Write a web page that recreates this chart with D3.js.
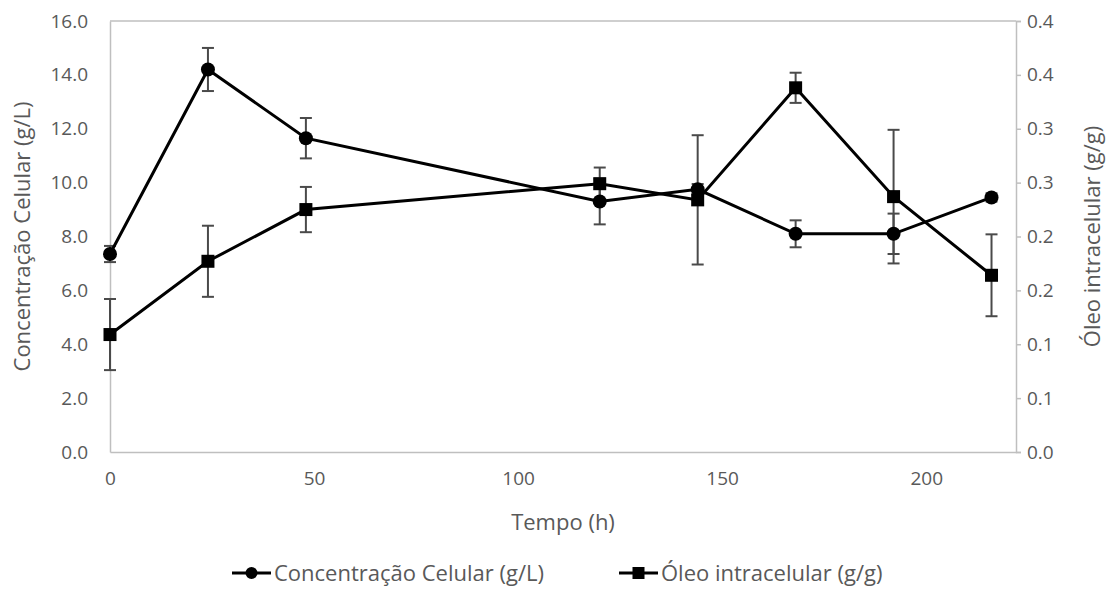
<!DOCTYPE html>
<html>
<head>
<meta charset="utf-8">
<script src="https://cdn.jsdelivr.net/npm/d3@7"></script>
<style>
  body { margin: 0; background: #fff; }
  text { font-family: "Open Sans", "Noto Sans", sans-serif; }
</style>
</head>
<body>
<div id="chart"></div>
<script>
// time points (h)
var tempo = [0, 24, 48, 120, 144, 168, 192, 216];
// cell concentration (g/L) and its error
var celular = [7.35, 14.2, 11.65, 9.3, 9.75, 8.1, 8.1, 9.45];
var celularErr = [0.3, 0.8, 0.75, 0.85, 0.2, 0.5, 0.75, 0.15];
// intracellular oil (g/g) and its error
var oleo = [0.109, 0.177, 0.225, 0.249, 0.234, 0.338, 0.237, 0.164];
var oleoErr = [0.033, 0.033, 0.021, 0.015, 0.06, 0.014, 0.062, 0.038];

var xTicks = [0, 50, 100, 150, 200];
var yLeftTicks = [0, 2, 4, 6, 8, 10, 12, 14, 16];
var yRightTicks = [0, 0.05, 0.1, 0.15, 0.2, 0.25, 0.3, 0.35, 0.4];
var yRightLabels = ["0.0", "0.1", "0.1", "0.2", "0.2", "0.3", "0.3", "0.4", "0.4"];

var width = 1107, height = 605;
var margin = {top: 21, right: 91, bottom: 153, left: 110};
var axisColor = "#bfbfbf", textColor = "#595959", errColor = "#4a4a4a";

var svg = d3.select("#chart").append("svg")
    .attr("width", width)
    .attr("height", height);

var x = d3.scaleLinear()
    .domain([0, 222])
    .range([margin.left, width - margin.right]);

var yL = d3.scaleLinear()
    .domain([0, 16])
    .range([height - margin.bottom, margin.top]);

var yR = d3.scaleLinear()
    .domain([0, 0.4])
    .range([height - margin.bottom, margin.top]);

// plot frame (top border)
svg.append("line")
    .attr("x1", margin.left).attr("x2", width - margin.right)
    .attr("y1", margin.top).attr("y2", margin.top)
    .attr("stroke", axisColor).attr("stroke-width", 1.5);

// x axis
svg.append("g")
    .attr("transform", `translate(0,${height - margin.bottom})`)
    .call(d3.axisBottom(x).tickValues(xTicks).tickSize(0).tickPadding(20).tickFormat(d3.format("d")))
    .call(g => g.select(".domain").attr("stroke", axisColor).attr("stroke-width", 1.5))
    .call(g => g.selectAll("text").attr("fill", textColor).style("font-size", "19px"));

// left axis
svg.append("g")
    .attr("transform", `translate(${margin.left},0)`)
    .call(d3.axisLeft(yL).tickValues(yLeftTicks).tickSize(0).tickPadding(22).tickFormat(d3.format(".1f")))
    .call(g => g.select(".domain").attr("stroke", axisColor).attr("stroke-width", 1.5))
    .call(g => g.selectAll("text").attr("fill", textColor).style("font-size", "19px"));

// right axis
svg.append("g")
    .attr("transform", `translate(${width - margin.right},0)`)
    .call(d3.axisRight(yR).tickValues(yRightTicks).tickSize(5).tickPadding(6)
        .tickFormat((d, i) => yRightLabels[i]))
    .call(g => g.select(".domain").attr("stroke", axisColor).attr("stroke-width", 1.5))
    .call(g => g.selectAll("line").attr("stroke", axisColor).attr("stroke-width", 1.5))
    .call(g => g.selectAll("text").attr("fill", textColor).style("font-size", "19px"));

// axis titles
svg.append("text")
    .attr("transform", `translate(30,${(margin.top + height - margin.bottom) / 2}) rotate(-90)`)
    .attr("text-anchor", "middle")
    .attr("fill", textColor)
    .style("font-size", "22px")
    .text("Concentração Celular (g/L)");

svg.append("text")
    .attr("transform", `translate(1100,${(margin.top + height - margin.bottom) / 2}) rotate(-90)`)
    .attr("text-anchor", "middle")
    .attr("fill", textColor)
    .style("font-size", "22px")
    .text("Óleo intracelular  (g/g)");

svg.append("text")
    .attr("x", (margin.left + width - margin.right) / 2)
    .attr("y", 530)
    .attr("text-anchor", "middle")
    .attr("fill", textColor)
    .style("font-size", "22px")
    .text("Tempo (h)");

var pts1 = tempo.map((t, i) => ({t: t, v: celular[i], e: celularErr[i]}));
var pts2 = tempo.map((t, i) => ({t: t, v: oleo[i], e: oleoErr[i]}));

function errorBars(data, y) {
    var g = svg.append("g").attr("stroke", errColor).attr("stroke-width", 2);
    g.selectAll(".v").data(data).join("line")
        .attr("x1", d => x(d.t)).attr("x2", d => x(d.t))
        .attr("y1", d => y(d.v - d.e)).attr("y2", d => y(d.v + d.e));
    g.selectAll(".top").data(data).join("line")
        .attr("x1", d => x(d.t) - 6).attr("x2", d => x(d.t) + 6)
        .attr("y1", d => y(d.v + d.e)).attr("y2", d => y(d.v + d.e));
    g.selectAll(".bot").data(data).join("line")
        .attr("x1", d => x(d.t) - 6).attr("x2", d => x(d.t) + 6)
        .attr("y1", d => y(d.v - d.e)).attr("y2", d => y(d.v - d.e));
}

errorBars(pts1, yL);
errorBars(pts2, yR);

var line1 = d3.line().x(d => x(d.t)).y(d => yL(d.v));
var line2 = d3.line().x(d => x(d.t)).y(d => yR(d.v));

svg.append("path").attr("d", line1(pts1))
    .attr("fill", "none").attr("stroke", "#000").attr("stroke-width", 3);
svg.append("path").attr("d", line2(pts2))
    .attr("fill", "none").attr("stroke", "#000").attr("stroke-width", 3);

svg.append("g").selectAll("circle").data(pts1).join("circle")
    .attr("cx", d => x(d.t)).attr("cy", d => yL(d.v)).attr("r", 7)
    .attr("fill", "#000");

svg.append("g").selectAll("rect").data(pts2).join("rect")
    .attr("x", d => x(d.t) - 6.5).attr("y", d => yR(d.v) - 6.5)
    .attr("width", 13).attr("height", 13)
    .attr("fill", "#000");

// legend
var legend = svg.append("g").attr("transform", "translate(0,573)");
var items = [
    {label: "Concentração Celular (g/L)", x0: 232, shape: "circle"},
    {label: "Óleo intracelular (g/g)", x0: 619, shape: "square"}
];
items.forEach(function(it) {
    legend.append("line")
        .attr("x1", it.x0).attr("x2", it.x0 + 39)
        .attr("y1", 0).attr("y2", 0)
        .attr("stroke", "#000").attr("stroke-width", 3);
    if (it.shape === "circle") {
        legend.append("circle").attr("cx", it.x0 + 19.5).attr("cy", 0).attr("r", 6).attr("fill", "#000");
    } else {
        legend.append("rect").attr("x", it.x0 + 13.5).attr("y", -6).attr("width", 12).attr("height", 12).attr("fill", "#000");
    }
    legend.append("text")
        .attr("x", it.x0 + 42).attr("y", 8)
        .attr("fill", textColor)
        .style("font-size", "22px")
        .text(it.label);
});
</script>
</body>
</html>
